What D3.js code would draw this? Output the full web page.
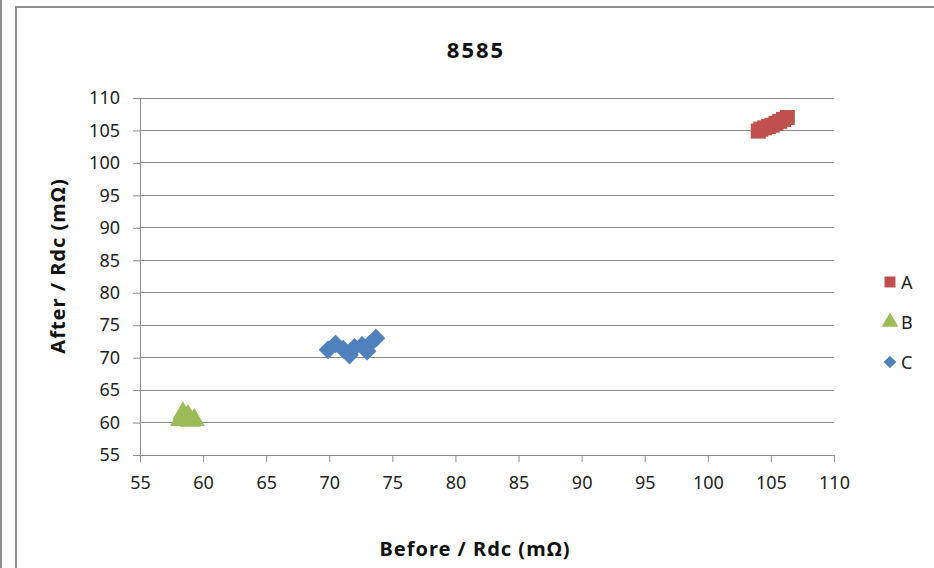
<!DOCTYPE html>
<html><head><meta charset="utf-8">
<script src="https://cdn.jsdelivr.net/npm/d3@7"></script>
<style>body{margin:0;background:#fff}svg{display:block}</style>
</head><body>
<svg id="c" width="934" height="568"></svg>
<script>
const seriesNames = ["A", "B", "C"];
const seriesColors = ["#C0504D", "#9BBB59", "#4F81BD"];
const aX = [104.0, 104.2, 104.5, 104.8, 105.1, 105.4, 105.7, 106.0, 106.3];
const aY = [104.9, 105.2, 105.4, 105.6, 105.8, 106.1, 106.4, 106.7, 107.0];
const bX = [58.2, 58.4, 58.6, 58.8, 59.0, 59.3];
const bY = [60.4, 61.4, 60.6, 61.0, 60.3, 60.4];
const cX = [69.9, 70.5, 71.1, 71.6, 72.0, 72.6, 73.0, 73.2, 73.7];
const cY = [71.2, 72.1, 71.3, 70.4, 71.6, 71.9, 71.0, 72.1, 73.0];
const xTicks = [55, 60, 65, 70, 75, 80, 85, 90, 95, 100, 105, 110];
const yTicks = [55, 60, 65, 70, 75, 80, 85, 90, 95, 100, 105, 110];
const title = "8585";
const xTitle = "Before / Rdc (mΩ)";
const yTitle = "After / Rdc (mΩ)";

const svg = d3.select("#c");
const font = "'Noto Sans', 'DejaVu Sans', sans-serif";
const gray = "#8c8c8c";

// frame
svg.append("line").attr("x1", 1).attr("x2", 1).attr("y1", 0).attr("y2", 568).attr("stroke", "#909090").attr("stroke-width", 2);
svg.append("rect").attr("x", 16).attr("y", 7).attr("width", 940).attr("height", 580)
  .attr("fill", "#fff").attr("stroke", "#8f8f8f").attr("stroke-width", 2);

const x = d3.scaleLinear().domain([55, 110]).range([140, 834]);
const y = d3.scaleLinear().domain([55, 110]).range([455, 98]);

// grid
svg.append("g").selectAll("line").data(yTicks).join("line")
  .attr("x1", 140).attr("x2", 834).attr("y1", d => y(d)).attr("y2", d => y(d))
  .attr("stroke", gray).attr("stroke-width", 1).attr("shape-rendering", "crispEdges");

const xAxis = svg.append("g").attr("transform", "translate(0,455)")
  .call(d3.axisBottom(x).tickValues(xTicks).tickSize(7).tickPadding(14));
const yAxis = svg.append("g").attr("transform", "translate(140,0)")
  .call(d3.axisLeft(y).tickValues(yTicks).tickSize(7).tickPadding(13));
[xAxis, yAxis].forEach(g => {
  g.select(".domain").attr("stroke", gray);
  g.selectAll(".tick line").attr("stroke", gray);
  g.selectAll("text").attr("font-family", font).attr("font-size", 18).attr("fill", "#222");
});

// points
const sym = [d3.symbolSquare, d3.symbolTriangle, d3.symbolSquare];
const rot = [0, 0, 45];
const sizes = [225, 190, 175];
const data = [[aX, aY], [bX, bY], [cX, cY]];
data.forEach(([xs, ys], i) => {
  svg.append("g").selectAll("path").data(xs.map((v, j) => [v, ys[j]])).join("path")
    .attr("d", d3.symbol().type(sym[i]).size(sizes[i]))
    .attr("transform", d => `translate(${x(d[0])},${y(d[1])}) rotate(${rot[i]})`)
    .attr("fill", seriesColors[i]);
});

// legend
seriesNames.forEach((n, i) => {
  const cy = 282 + i * 40;
  svg.append("path").attr("d", d3.symbol().type(sym[i]).size([120, 120, 80][i]))
    .attr("transform", `translate(890,${cy}) rotate(${rot[i]})`).attr("fill", seriesColors[i]);
  svg.append("text").attr("x", 901).attr("y", cy + 7).text(n)
    .attr("font-family", font).attr("font-size", 18).attr("fill", "#222");
});

// titles
svg.append("text").attr("x", 476).attr("y", 58).attr("text-anchor", "middle").text(title)
  .attr("font-family", font).attr("font-size", 22).attr("font-weight", "bold")
  .attr("letter-spacing", 2).attr("fill", "#111");
svg.append("text").attr("x", 475).attr("y", 556).attr("text-anchor", "middle").text(xTitle)
  .attr("font-family", font).attr("font-size", 20).attr("font-weight", "bold")
  .attr("letter-spacing", 1).attr("fill", "#111");
svg.append("text").attr("transform", "translate(65,266) rotate(-90)").attr("text-anchor", "middle").text(yTitle)
  .attr("font-family", font).attr("font-size", 20).attr("font-weight", "bold")
  .attr("letter-spacing", 1).attr("fill", "#111");
</script>
</body></html>
